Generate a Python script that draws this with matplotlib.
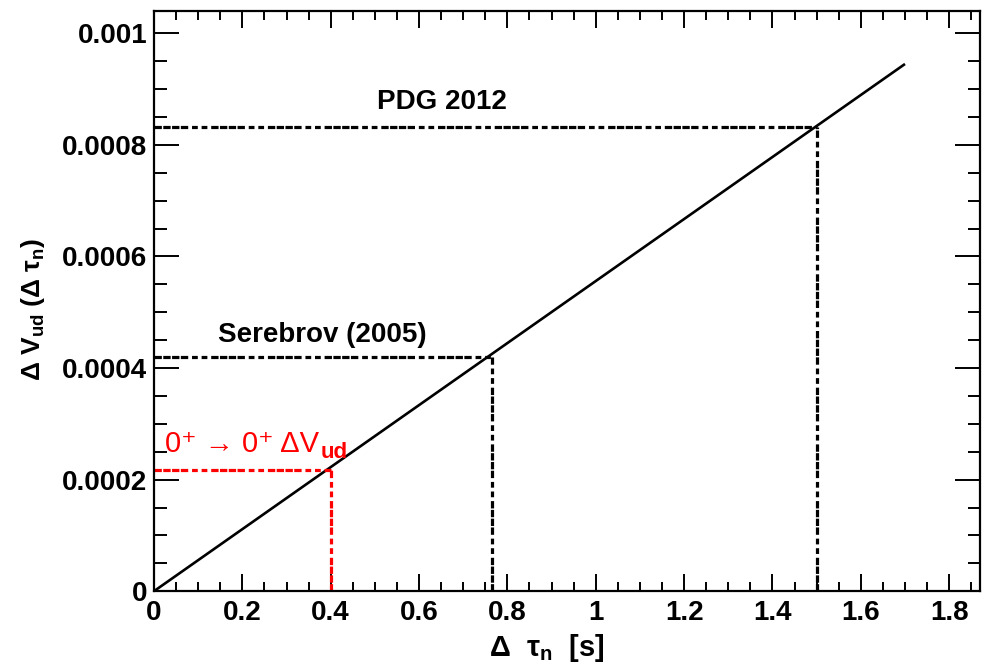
import matplotlib
matplotlib.use("Agg")
import matplotlib.pyplot as plt
from matplotlib.ticker import MultipleLocator, FuncFormatter

plt.rcParams['font.family'] = ['Liberation Sans', 'DejaVu Sans']
plt.rcParams['font.weight'] = 'bold'
plt.rcParams['mathtext.fontset'] = 'custom'
plt.rcParams['mathtext.rm'] = 'Liberation Sans:bold'
plt.rcParams['mathtext.bf'] = 'Liberation Sans:bold'
plt.rcParams['mathtext.it'] = 'Liberation Sans:bold'

# Data
line_x = [0.0, 1.7]
line_y = [0.0, 0.000945]
markers_x = [0.4, 0.765, 1.5]
markers_y = [0.000218, 0.000420, 0.000832]
marker_labels = ["0\u207a \u2192 0\u207a \u0394V", "Serebrov (2005)", "PDG 2012"]
marker_subs = ["ud", "", ""]
marker_colors = ["#ff0000", "black", "black"]
label_pos_x = [0.025, 0.145, 0.505]
label_pos_y = [0.000250, 0.000447, 0.000865]
xlim = (0, 1.87)
ylim = (0, 0.00104)

fig = plt.figure(figsize=(9.87, 6.65), dpi=100)
ax = fig.add_axes([0.156, 0.111, 0.837, 0.8725])

ax.plot(line_x, line_y, color='black', lw=1.9, solid_capstyle='butt')

dash = [2.3, 0.45, 2.3, 0.45, 2.3, 0.45, 2.3, 1.2, 1.8, 1.2, 1.8, 1.2]
for x, y, c in zip(markers_x, markers_y, marker_colors):
    ax.plot([0, x], [y, y], color=c, lw=2.3, dashes=dash, dash_capstyle='butt')
    ax.plot([x, x], [0, y], color=c, lw=2.3, dashes=dash, dash_capstyle='butt')

for lx, ly, t, sub, c in zip(label_pos_x, label_pos_y, marker_labels, marker_subs, marker_colors):
    if sub:
        t1 = ax.text(lx, ly, t, color=c, fontsize=21, fontweight='normal',
                     family=['Liberation Sans', 'DejaVu Sans'], ha='left', va='baseline')
        ax.annotate(sub, xy=(1.0, 0.0), xycoords=t1, xytext=(1, -4),
                    textcoords='offset points', color=c, fontsize=16,
                    fontweight='bold', ha='left', va='bottom')
    else:
        ax.text(lx, ly, t, color=c, fontsize=20, fontweight='bold', ha='left', va='baseline')

ax.set_xlim(*xlim)
ax.set_ylim(*ylim)
ax.xaxis.set_major_locator(MultipleLocator(0.2))
ax.xaxis.set_minor_locator(MultipleLocator(0.05))
ax.yaxis.set_major_locator(MultipleLocator(0.0002))
ax.yaxis.set_minor_locator(MultipleLocator(0.00005))

def fmt(v, pos):
    if abs(v) < 1e-12:
        return "0"
    return ("%.4f" % v).rstrip('0')
def fmtx(v, pos):
    if abs(v) < 1e-12:
        return "0"
    s = ("%.1f" % v)
    if s.endswith('.0'):
        s = s[:-2]
    return s
ax.yaxis.set_major_formatter(FuncFormatter(fmt))
ax.xaxis.set_major_formatter(FuncFormatter(fmtx))

ax.tick_params(axis='both', which='both', direction='in', top=True, right=True, width=1.4)
ax.tick_params(axis='y', which='major', length=18, labelsize=20, pad=5)
ax.tick_params(axis='y', which='minor', length=9)
ax.tick_params(axis='x', which='major', length=12, labelsize=20, pad=6)
ax.tick_params(axis='x', which='minor', length=6.5)
for s in ax.spines.values():
    s.set_linewidth(1.6)

ax.set_xlabel("\u0394  \u03c4$_{\\mathbf{n}}$  [s]", fontsize=21, fontweight='bold', labelpad=2)
ax.xaxis.set_label_coords(0.475, -0.07)
ax.set_ylabel("\u0394 V$_{\\mathbf{ud}}$ (\u0394 \u03c4$_{\\mathbf{n}}$)", fontsize=19, fontweight='bold')
ax.yaxis.set_label_coords(-0.13, 0.485)

fig.savefig("out.png", dpi=100)
